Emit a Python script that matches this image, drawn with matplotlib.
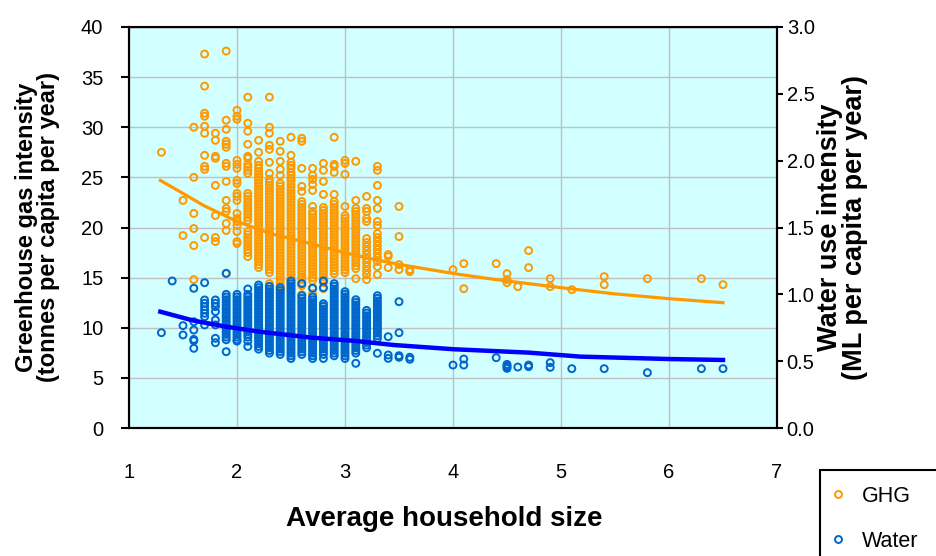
import matplotlib
matplotlib.use("Agg")
import matplotlib.pyplot as plt
from matplotlib.lines import Line2D
from matplotlib.patches import Rectangle
from matplotlib.ticker import FormatStrFormatter

# household size columns and the GHG values (tonnes per capita per year)
ghg_sizes = [1.3, 1.5, 1.6, 1.7, 1.8, 1.9, 2.0, 2.1, 2.2, 2.3, 2.4, 2.5, 2.6, 2.7, 2.8, 2.9,
             3.0, 3.1, 3.2, 3.3, 3.4, 3.5, 3.6, 4.0, 4.1, 4.4, 4.5, 4.6, 4.7, 4.9, 5.1, 5.4,
             5.8, 6.3, 6.5]
ghg_values = [
    [27.5],
    [22.7, 19.2],
    [30.0, 25.0, 21.4, 19.9, 18.2, 14.8],
    [37.3, 34.1, 31.4, 31.1, 30.1, 29.4, 27.2, 26.1, 25.8, 19.0],
    [29.4, 28.7, 27.1, 26.9, 24.2, 21.2, 19.0, 18.6],
    [37.6, 30.7, 29.8, 28.6, 28.3, 28.0, 26.4, 26.1, 24.6, 22.7, 21.9, 21.6, 20.4, 19.7, 15.4],
    [31.7, 31.1, 30.8, 26.7, 26.3, 25.9, 24.7, 24.4, 23.4, 23.1, 22.7, 21.4, 20.9, 20.6, 20.2,
     19.6, 18.6, 18.4],
    [33.0, 30.4, 29.6, 28.3, 27.1, 26.9, 26.3, 26.0, 25.7, 25.4, 23.4, 23.1, 22.8, 22.5, 22.2,
     21.9, 21.6, 21.3, 21.0, 20.7, 19.6, 19.3, 19.0, 18.7, 18.4, 18.1, 17.8, 17.5, 17.1],
    [28.7, 27.5, 26.6, 26.2, 25.9, 25.6, 25.3, 25.0, 24.7, 24.4, 24.1, 23.8, 23.5, 23.2, 22.9,
     22.6, 22.3, 22.0, 21.7, 21.4, 21.1, 20.8, 20.5, 20.2, 19.9, 19.6, 19.3, 19.0, 18.7, 18.4,
     18.1, 17.8, 17.5, 17.2, 16.9, 16.6, 16.3, 16.0],
    [33.0, 30.0, 29.4, 28.2, 27.8, 26.5, 25.4, 24.8, 24.5, 24.2, 23.9, 23.6, 23.3, 23.0, 22.7,
     22.4, 22.1, 21.8, 21.5, 21.2, 20.9, 20.6, 20.3, 20.0, 19.7, 19.4, 19.1, 18.8, 18.5, 18.2,
     17.9, 17.6, 17.3, 17.0, 16.7, 16.4, 16.1, 15.8, 15.5, 14.4, 13.4],
    [28.6, 27.6, 26.6, 25.8, 25.2, 24.4, 24.1, 23.8, 23.5, 23.2, 22.9, 22.6, 22.3, 22.0, 21.7,
     21.4, 21.1, 20.8, 20.5, 20.2, 19.9, 19.6, 19.3, 19.0, 18.7, 18.4, 18.1, 17.8, 17.5, 17.2,
     16.9, 16.6, 16.3, 16.0, 15.7, 15.4, 15.1, 14.8, 14.5, 14.2, 13.9, 13.6],
    [29.0, 27.2, 26.5, 26.2, 25.9, 25.5, 25.2, 24.9, 24.6, 24.3, 24.0, 23.7, 23.4, 23.1, 22.8,
     22.5, 22.2, 21.9, 21.6, 21.3, 21.0, 20.7, 20.4, 20.1, 19.8, 19.5, 19.2, 18.9, 18.6, 18.3,
     18.0, 17.7, 17.4, 17.1, 16.8, 16.5, 16.2, 15.9, 15.6, 15.3, 15.0, 14.7, 14.4, 14.1, 13.8],
    [28.9, 28.6, 25.9, 24.1, 23.6, 22.6, 22.3, 22.0, 21.7, 21.4, 21.1, 20.8, 20.5, 20.2, 19.9,
     19.6, 19.3, 19.0, 18.7, 18.4, 18.1, 17.8, 17.5, 17.2, 16.9, 16.6, 16.3, 16.0, 15.7, 15.4,
     15.1, 14.8, 14.5, 14.2, 13.3],
    [25.9, 25.2, 24.8, 24.3, 23.7, 22.1, 21.6, 21.3, 21.0, 20.7, 20.4, 20.1, 19.8, 19.5, 19.2,
     18.9, 18.6, 18.3, 18.0, 17.7, 17.4, 17.1, 16.8, 16.5, 16.2, 15.9, 15.6, 15.3, 15.0, 14.7,
     14.0, 13.4],
    [26.4, 25.7, 24.6, 23.3, 22.0, 21.7, 21.4, 21.1, 20.8, 20.5, 20.2, 19.9, 19.6, 19.3, 19.0,
     18.7, 18.4, 18.1, 17.8, 17.5, 17.2, 16.9, 16.6, 16.3, 16.0, 15.7, 15.4, 15.1, 14.8, 14.5,
     13.9, 12.3],
    [29.0, 26.3, 26.1, 25.5, 23.3, 22.6, 22.3, 22.0, 21.7, 21.4, 21.1, 20.8, 20.5, 20.2, 19.9,
     19.6, 19.3, 19.0, 18.7, 18.4, 18.1, 17.8, 17.5, 17.2, 16.9, 16.6, 16.3, 16.0, 15.7, 15.4],
    [26.7, 26.4, 25.3, 22.1, 21.2, 20.9, 20.6, 20.3, 20.0, 19.7, 19.4, 19.1, 18.8, 18.5, 18.2,
     17.9, 17.6, 17.3, 17.0, 16.7, 16.4, 16.1, 15.8, 15.5],
    [26.6, 22.7, 21.9, 21.6, 21.3, 21.0, 20.7, 20.4, 20.1, 19.8, 19.5, 19.2, 18.9, 18.6, 18.3,
     18.0, 17.7, 17.4, 17.1, 16.8, 16.5, 16.2, 15.9, 14.9],
    [23.1, 21.9, 21.6, 20.9, 20.6, 18.9, 18.5, 18.1, 17.7, 17.3, 16.9, 16.5, 16.1, 15.7, 15.3,
     14.8],
    [26.1, 25.7, 24.2, 22.7, 21.9, 20.6, 20.2, 19.4, 19.0, 18.6, 18.2, 17.8, 17.4, 17.0, 16.6,
     16.1, 15.3],
    [17.3, 17.1, 16.0],
    [22.1, 19.1, 16.3, 15.8],
    [15.8, 15.6],
    [15.8],
    [16.4, 13.9],
    [16.4],
    [15.4, 14.8, 14.5],
    [14.1],
    [17.7, 16.0],
    [14.9, 14.1],
    [13.8],
    [15.1, 14.3],
    [14.9],
    [14.9],
    [14.3],
]

# household size columns and the water values (ML per capita per year)
water_sizes = [1.3, 1.4, 1.5, 1.6, 1.7, 1.8, 1.9, 2.0, 2.1, 2.2, 2.3, 2.4, 2.5, 2.6, 2.7, 2.8,
               2.9, 3.0, 3.1, 3.2, 3.3, 3.4, 3.5, 3.6, 4.0, 4.1, 4.4, 4.5, 4.6, 4.7, 4.9, 5.1,
               5.4, 5.8, 6.3, 6.5]
water_values = [
    [0.713],
    [1.10],
    [0.766, 0.696],
    [1.045, 0.795, 0.733, 0.663, 0.653, 0.596],
    [1.087, 0.958, 0.933, 0.908, 0.883, 0.858, 0.833, 0.771],
    [0.958, 0.933, 0.908, 0.871, 0.808, 0.771, 0.671, 0.638],
    [1.157, 1.00, 0.98, 0.96, 0.94, 0.92, 0.90, 0.88, 0.86, 0.84, 0.82, 0.80, 0.78, 0.76, 0.74,
     0.72, 0.70, 0.68, 0.66, 0.571],
    [1.00, 0.98, 0.96, 0.94, 0.92, 0.90, 0.88, 0.86, 0.84, 0.82, 0.80, 0.78, 0.76, 0.74, 0.72,
     0.70, 0.68, 0.66, 0.65],
    [1.04, 1.00, 0.98, 0.96, 0.94, 0.92, 0.90, 0.88, 0.86, 0.84, 0.82, 0.80, 0.78, 0.76, 0.74,
     0.72, 0.70, 0.68, 0.65, 0.61],
    [1.07, 1.05, 1.03, 1.01, 0.99, 0.97, 0.95, 0.93, 0.91, 0.89, 0.87, 0.85, 0.83, 0.81, 0.79,
     0.77, 0.75, 0.73, 0.71, 0.69, 0.67, 0.65, 0.63, 0.61, 0.59],
    [1.06, 1.04, 1.02, 1.00, 0.98, 0.96, 0.94, 0.92, 0.90, 0.88, 0.86, 0.84, 0.82, 0.80, 0.78,
     0.76, 0.74, 0.72, 0.70, 0.68, 0.66, 0.64, 0.62, 0.60, 0.58, 0.56],
    [1.05, 1.03, 1.01, 0.99, 0.97, 0.95, 0.93, 0.91, 0.89, 0.87, 0.85, 0.83, 0.81, 0.79, 0.77,
     0.75, 0.73, 0.71, 0.69, 0.67, 0.65, 0.63, 0.61, 0.59, 0.57, 0.55],
    [1.10, 1.08, 1.06, 1.04, 1.02, 1.00, 0.98, 0.96, 0.94, 0.92, 0.90, 0.88, 0.86, 0.84, 0.82,
     0.80, 0.78, 0.76, 0.74, 0.72, 0.70, 0.68, 0.66, 0.64, 0.62, 0.60, 0.58, 0.56, 0.54, 0.52],
    [1.08, 0.99, 0.97, 0.95, 0.93, 0.91, 0.89, 0.87, 0.85, 0.83, 0.81, 0.79, 0.77, 0.75, 0.73,
     0.71, 0.69, 0.67, 0.65, 0.63, 0.61, 0.59, 0.57, 0.55],
    [1.045, 0.98, 0.96, 0.94, 0.92, 0.90, 0.88, 0.86, 0.84, 0.82, 0.80, 0.78, 0.76, 0.74, 0.72,
     0.70, 0.68, 0.66, 0.64, 0.62, 0.60, 0.58, 0.56, 0.54, 0.52],
    [1.10, 1.05, 0.93, 0.91, 0.89, 0.87, 0.85, 0.83, 0.81, 0.79, 0.77, 0.75, 0.73, 0.71, 0.69,
     0.67, 0.65, 0.63, 0.61, 0.59, 0.57, 0.55, 0.52],
    [1.08, 1.06, 1.04, 1.02, 1.00, 0.98, 0.96, 0.94, 0.92, 0.90, 0.88, 0.86, 0.84, 0.82, 0.80,
     0.78, 0.76, 0.74, 0.72, 0.70, 0.68, 0.66, 0.64, 0.62, 0.60, 0.58, 0.56, 0.54],
    [1.02, 1.00, 0.98, 0.96, 0.94, 0.92, 0.90, 0.88, 0.86, 0.84, 0.82, 0.80, 0.78, 0.76, 0.74,
     0.72, 0.70, 0.68, 0.66, 0.64, 0.62, 0.60, 0.58, 0.56, 0.54, 0.52],
    [0.96, 0.94, 0.92, 0.90, 0.88, 0.86, 0.84, 0.82, 0.80, 0.78, 0.76, 0.74, 0.72, 0.70, 0.68,
     0.66, 0.64, 0.62, 0.60, 0.58, 0.56, 0.484],
    [0.88, 0.86, 0.84, 0.82, 0.80, 0.78, 0.76, 0.74, 0.72, 0.70, 0.68, 0.66, 0.64, 0.62, 0.60],
    [0.99, 0.97, 0.95, 0.93, 0.91, 0.89, 0.87, 0.85, 0.83, 0.81, 0.79, 0.77, 0.75, 0.73, 0.71,
     0.69, 0.67, 0.559],
    [0.683, 0.546, 0.521],
    [0.945, 0.713, 0.541, 0.529],
    [0.529, 0.514],
    [0.471],
    [0.516, 0.471],
    [0.526],
    [0.476, 0.466, 0.456, 0.446],
    [0.456],
    [0.471, 0.459],
    [0.489, 0.454],
    [0.444],
    [0.444],
    [0.414],
    [0.444],
    [0.444],
]

# trend lines
ghg_trend_x = [1.29, 1.50, 1.69, 2.0, 2.31, 2.61, 2.92, 3.23, 3.51, 4.01, 4.40, 5.0, 5.48, 6.0, 6.50]
ghg_trend_y = [24.7, 23.4, 22.2, 20.6, 19.4, 18.6, 17.7, 16.9, 16.3, 15.4, 14.8, 14.0, 13.4, 12.9, 12.5]
water_trend_x = [1.29, 1.60, 1.90, 2.20, 2.69, 3.10, 3.45, 4.01, 4.70, 5.18, 6.0, 6.50]
water_trend_y = [0.870, 0.803, 0.758, 0.721, 0.676, 0.651, 0.621, 0.589, 0.564, 0.534, 0.516, 0.509]

orange = "#FF9900"
blue = "#0066CC"
narrow = ["Liberation Sans Narrow", "Liberation Sans", "DejaVu Sans"]
plt.rcParams["font.family"] = ["Liberation Sans", "DejaVu Sans"]

fig = plt.figure(figsize=(9.37, 5.56), dpi=100)
ax = fig.add_axes([129 / 937, 1 - 428 / 556, 648 / 937, 401 / 556])
ax.set_facecolor("#D2FFFF")
ax2 = ax.twinx()

gx, gy = [], []
for s, vals in zip(ghg_sizes, ghg_values):
    gx += [s] * len(vals)
    gy += vals
wx, wy = [], []
for s, vals in zip(water_sizes, water_values):
    wx += [s] * len(vals)
    wy += vals

mk = dict(s=25, facecolors="none", linewidths=1.4)
ax2.scatter(wx, wy, edgecolors=blue, zorder=3, **mk)
ax2.plot(water_trend_x, water_trend_y, color="#0000FF", lw=3.2, zorder=4)
ax.scatter(gx, gy, edgecolors=orange, zorder=3, **mk)
ax.plot(ghg_trend_x, ghg_trend_y, color=orange, lw=2.3, zorder=4)
ax.set_zorder(1)
ax2.set_zorder(2)
ax2.patch.set_visible(False)

ax.set_xlim(1, 7)
ax.set_ylim(0, 40)
ax2.set_ylim(0, 3)
ax.set_xticks(range(1, 8))
ax.set_yticks(range(0, 41, 5))
ax2.set_yticks([0, 0.5, 1.0, 1.5, 2.0, 2.5, 3.0])
ax2.yaxis.set_major_formatter(FormatStrFormatter("%.1f"))
ax.grid(True, color="#C0C0C0", lw=1)
ax.set_axisbelow(True)

for a in (ax, ax2):
    for sp in a.spines.values():
        sp.set_linewidth(1.5)
ax.spines["top"].set_color("#404040")
ax.spines["top"].set_linewidth(1)
ax.tick_params(axis="y", direction="out", length=6, width=1.5, pad=12.5,
               labelsize=14.5, labelfontfamily=narrow)
ax2.tick_params(axis="y", direction="out", length=4, width=1.5, pad=3,
                labelsize=14.5, labelfontfamily=narrow)
ax.tick_params(axis="x", length=0, pad=25, labelsize=14.5, labelfontfamily=narrow)

ax.set_xlabel("Average household size", fontsize=20, fontweight="bold")
ax.xaxis.set_label_coords((444 - 129) / 648, -0.228)
ax.xaxis.label.set_va("center")
ax.set_ylabel("Greenhouse gas intensity\n(tonnes per capita per year)", fontsize=17,
              fontweight="bold", labelpad=15, linespacing=0.95)
ax2.set_ylabel("Water use intensity\n(ML per capita per year)", rotation=90, fontsize=19.5,
               fontweight="bold", labelpad=2, linespacing=0.95)

handles = [
    Line2D([], [], ls="none", marker="o", mfc="none", mec=orange, mew=1.4, ms=5),
    Line2D([], [], ls="none", marker="o", mfc="none", mec=blue, mew=1.4, ms=5),
]
fig.legend(handles, ["GHG", "Water"], loc="upper left",
           bbox_to_anchor=(827 / 937, 1 - 486 / 556), fontsize=15.5, frameon=False,
           handlelength=1.0, handletextpad=0.6, borderpad=0, labelspacing=1.1,
           borderaxespad=0)
fig.patches.append(Rectangle((820 / 937, -0.1), 0.3, 0.1 + 1 - 470 / 556, fill=False,
                             lw=1.5, edgecolor="black", transform=fig.transFigure))

fig.savefig("out.png", dpi=100)
